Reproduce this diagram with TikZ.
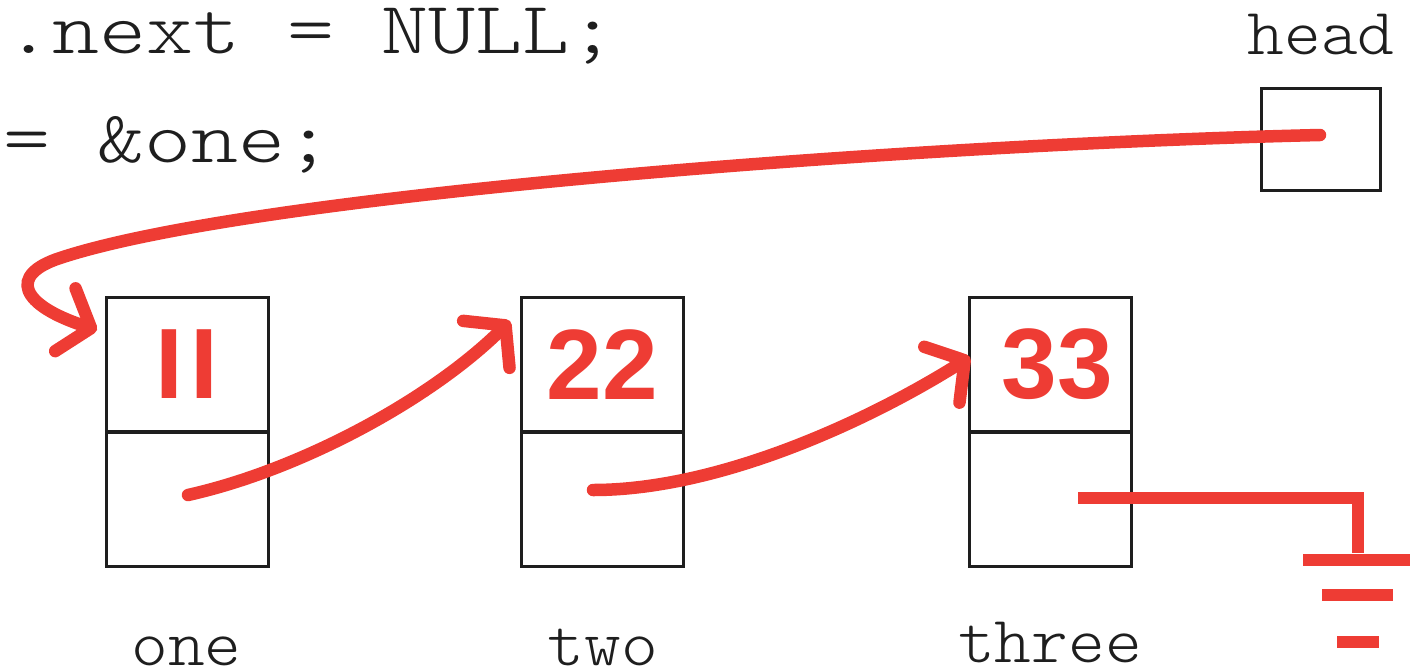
\documentclass[tikz,border=0pt]{standalone}
\usepackage{fontspec}
\usepackage{graphicx}
\newfontfamily\digitfont{Liberation Sans}
\newfontfamily\codefont{lmmonolt10-regular}[Extension=.otf]
\usetikzlibrary{arrows.meta}
\definecolor{pen}{RGB}{238,60,52}
\definecolor{ink}{RGB}{30,30,30}
\begin{document}
\begin{tikzpicture}[x=1pt,y=-1pt,
  cell/.style={draw=ink, line width=3pt, minimum width=162pt, minimum height=135pt,
               inner sep=0pt, outer sep=0pt},
  val/.style={text=pen, font=\digitfont\bfseries\fontsize{100}{100}\selectfont},
  lbl/.style={font=\codefont\fontsize{66}{66}\selectfont, inner sep=0pt, anchor=base, text=ink},
  code/.style={font=\codefont\fontsize{74}{74}\selectfont, inner sep=0pt, anchor=base west, text=ink},
  ptr/.style={draw=pen, line width=12.5pt, line cap=round,
              -{Straight Barb[length=27pt,width=66pt,round]}},
  wire/.style={draw=pen, line width=12.5pt},
]
\useasboundingbox (0,0) rectangle (1412,669);

% source lines
\node[code] (nullline) at (5,54) {\scalebox{1.21}[1]{.next = NULL;}};
\node[code] (headline) at (3,162) {\scalebox{1.21}[1]{= \&one;}};

% head pointer
\node[draw=ink, line width=3pt, minimum width=119pt, minimum height=102pt,
      inner sep=0pt] (head) at (1320.5,139) {};
\node[lbl] (headlbl) at (1321,55) {\scalebox{1.06}[1]{head}};

% list nodes: value cell over pointer cell
\node[cell, val] (onev) at (187,364.5) {I\kern7ptI};
\node[cell] (onen) at (187,499) {};
\node[cell, val] (twov) at (602.5,364.5) {22};
\node[cell] (twon) at (602.5,499) {};
\node[cell, val] (threev) at (1050,364.5) {\kern14pt33};
\node[cell] (threen) at (1050,499) {};

\node[lbl] (onelbl) at (186.5,665) {\scalebox{1.06}[1]{one}};
\node[lbl] (twolbl) at (603,665) {\scalebox{1.06}[1]{two}};
\node[lbl] (threelbl) at (1050,662) {\scalebox{1.06}[1]{three}};

% pointer ends
\coordinate (headp) at (1320,135);
\coordinate (onep) at (188,495);
\coordinate (twop) at (593,490);
\coordinate (threep) at (1078,498);
\coordinate (onein) at (97,330);
\coordinate (twoin) at (510,321);
\coordinate (threein) at (970,357);
\coordinate (gnd) at (1358,553);

% links
\draw[ptr] (headp) .. controls (900,145) and (250,195) .. (60,258)
                   .. controls (8,275) and (20,305) .. (onein);
\draw[ptr] (onep) .. controls (300,470) and (430,400) .. (twoin);
\draw[ptr] (twop) .. controls (720,490) and (870,420) .. (threein);

% NULL: wire to ground symbol
\draw[wire] (threep) -| (gnd);
\draw[wire] (1303,560) -- (1410,560);
\draw[wire] (1322,595) -- (1393,595);
\draw[wire] (1337,642) -- (1379,642);
\end{tikzpicture}
\end{document}
